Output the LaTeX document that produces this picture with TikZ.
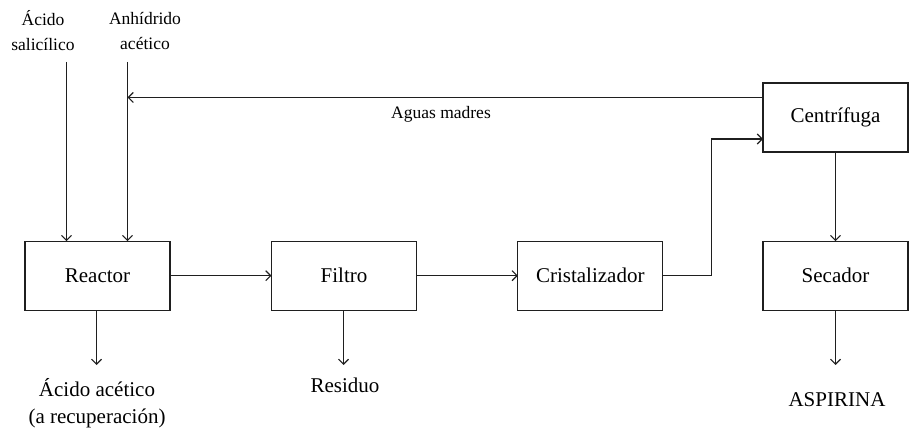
\documentclass[tikz,border=0pt]{standalone}
\usepackage{fontspec}
\setmainfont{Liberation Serif}
\usetikzlibrary{arrows.meta}

\begin{document}
\begin{tikzpicture}[x=1pt,y=-1pt,
  line width=1.3pt,
  flow/.style={draw=black!88, -{Straight Barb[length=5pt,width=10pt,line width=1.1pt]}},
  unit/.style={draw=black!88, minimum width=145pt, minimum height=69pt, inner sep=0pt, outer sep=0pt,
               font=\fontsize{21}{26}\selectfont},
  biglabel/.style={align=center, inner sep=0pt, font=\fontsize{21}{26.5}\selectfont},
  smalllabel/.style={align=center, inner sep=0pt, font=\fontsize{17.5}{25}\selectfont}
]
\useasboundingbox (0,0) rectangle (913,430);

% process units
\node[unit] (reactor) at (97.5,275.7) {Reactor};
\node[unit] (filtro)  at (344,275.7)  {Filtro};
\node[unit] (crist)   at (590.3,275.7) {Cristalizador};
\node[unit] (secador) at (835.5,275.7) {Secador};
\node[unit] (centri)  at (835.5,117.5) {Centrífuga};

% feed and product labels
\node[smalllabel] (salic) at (43,31) {Ácido\\salicílico};
\node[smalllabel] (anhid) at (145,31) {Anhídrido\\acético};
\node[smalllabel] (aguas) at (441,114) {Aguas madres};
\node[biglabel] (acetico) at (97,403) {Ácido acético\\(a recuperación)};
\node[biglabel] (residuo) at (345,385) {Residuo};
\node[biglabel] (aspirina) at (837,400) {ASPIRINA};

% free ends of the stream lines
\coordinate (salin) at (66.5,62);
\coordinate (anhin) at (127.5,62);
\coordinate (recycle) at (762.7,97.5);
\coordinate (bend) at (711.5,139);
\coordinate (acout) at (96.5,365);
\coordinate (resout) at (343.5,365);
\coordinate (aspout) at (835.5,365);

% feeds into the reactor
\draw[flow] (salin) -- (salin |- reactor.north);
\draw[flow] (anhin) -- (anhin |- reactor.north);

% main line
\draw[flow] (reactor.east) -- (filtro.west);
\draw[flow] (filtro.east) -- (crist.west);
\draw[flow] (crist.east) -| (bend) -- (bend -| centri.west);
\draw[flow] (centri.south) -- (secador.north);

% mother liquor recycle
\draw[flow] (recycle) -- (recycle -| anhin);

% outlets
\draw[flow] (acout |- reactor.south) -- (acout);
\draw[flow] (resout |- filtro.south) -- (resout);
\draw[flow] (secador.south) -- (aspout);
\end{tikzpicture}
\end{document}
